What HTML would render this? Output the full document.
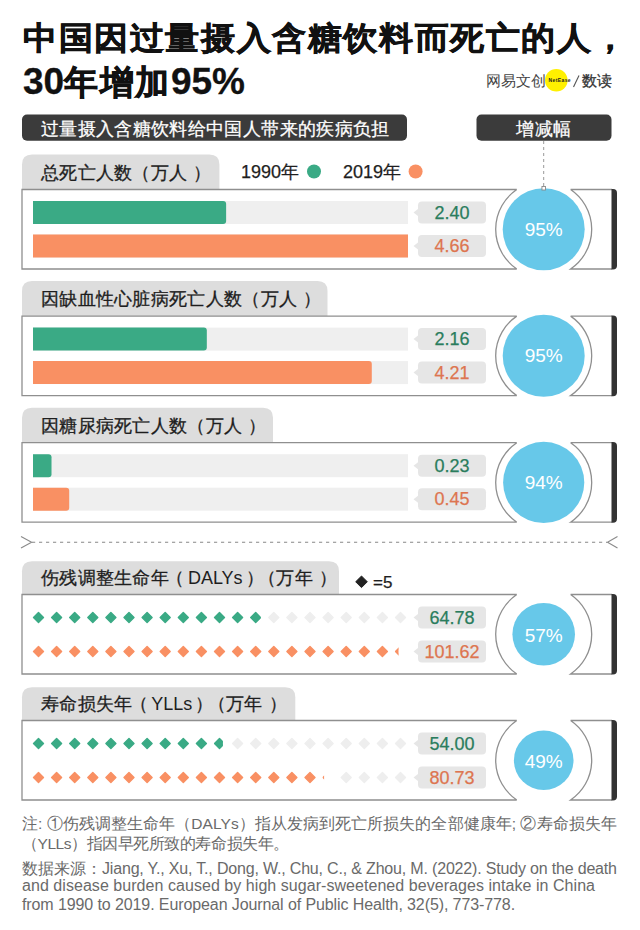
<!DOCTYPE html>
<html><head><meta charset="utf-8">
<style>
html,body{margin:0;padding:0;background:#fff;}
body{width:640px;height:930px;position:relative;overflow:hidden;font-family:"Liberation Sans",sans-serif;color:#1a1a1a;}
.a{position:absolute;white-space:nowrap;}
svg{position:absolute;left:0;top:0;}
.title{position:absolute;left:23px;font-size:34px;letter-spacing:1.6px;font-weight:700;color:#111;white-space:nowrap;-webkit-text-stroke:0.6px #111;transform:scaleY(0.94);transform-origin:0 60%;}
.dg{-webkit-text-stroke:0.3px #111;letter-spacing:0px;font-size:37px}
.hb{position:absolute;color:#fff;font-size:18px;letter-spacing:0.35px;white-space:nowrap;height:26px;line-height:29px;-webkit-text-stroke:0.25px #fff;}
.tabt{position:absolute;left:41px;font-size:18px;letter-spacing:0.3px;color:#1e1e1e;white-space:nowrap;-webkit-text-stroke:0.3px #1e1e1e;}
.val{position:absolute;left:418px;width:68px;height:22px;line-height:22px;text-align:center;font-size:18px;-webkit-text-stroke:0.25px currentColor;}
.pct{position:absolute;left:503.70000000000005px;width:80px;height:24px;line-height:24px;text-align:center;color:#fff;font-size:19px;}
.leg{position:absolute;font-size:18px;color:#1e1e1e;white-space:nowrap;-webkit-text-stroke:0.25px #1e1e1e;}
.note{position:absolute;left:22px;font-size:15px;color:#6a6a6a;white-space:nowrap;}
</style></head><body>
<svg width="640" height="930" viewBox="0 0 640 930">
<rect x="22" y="114.5" width="385" height="26.3" rx="5" fill="#3b3b3b"/>
<rect x="476.5" y="114.5" width="135" height="26.3" rx="5" fill="#3b3b3b"/>
<line x1="543.7" y1="141" x2="543.7" y2="186" stroke="#999" stroke-width="1" stroke-dasharray="3 3"/>
<path d="M22,189.5 L22,164.5 Q22,154.5 32,154.5 L209.4,154.5 Q219.4,154.5 219.4,164.5 L219.4,189.5 Z" fill="#dddddd"/>
<path d="M516.79,189.5 L22,189.5 L22,269.0 L516.79,269.0 M516.79,189.5 A48,48 0 0 0 516.79,269.0 M570.61,189.5 L612,189.5 M612,269.0 L570.61,269.0 A48,48 0 0 0 570.61,189.5" fill="none" stroke="#8f8f8f" stroke-width="1.3"/>
<path d="M611.5,188.9 L613,188.9 Q617,188.9 617,192.9 L617,265.6 Q617,269.6 613,269.6 L611.5,269.6 Z" fill="#333"/>
<circle cx="543.7" cy="229.25" r="41" fill="#67c8e9"/>
<rect x="33" y="201.0" width="375" height="23" fill="#efefef"/>
<path d="M33,201.0 L223.13,201.0 Q226.13,201.0 226.13,204.0 L226.13,221.0 Q226.13,224.0 223.13,224.0 L33,224.0 Z" fill="#3aaa85"/>
<rect x="418" y="201.5" width="68" height="22" rx="4" fill="#e6e6e6"/>
<path d="M418,209.0 L413.5,212.5 L418,216.0 Z" fill="#e6e6e6"/>
<rect x="33" y="234.5" width="375" height="23" fill="#efefef"/>
<rect x="33" y="234.5" width="375" height="23" fill="#f99063"/>
<rect x="418" y="235.0" width="68" height="22" rx="4" fill="#e6e6e6"/>
<path d="M418,242.5 L413.5,246.0 L418,249.5 Z" fill="#e6e6e6"/>
<path d="M22,316.1 L22,291.1 Q22,281.1 32,281.1 L317.5,281.1 Q327.5,281.1 327.5,291.1 L327.5,316.1 Z" fill="#dddddd"/>
<path d="M516.79,316.1 L22,316.1 L22,395.6 L516.79,395.6 M516.79,316.1 A48,48 0 0 0 516.79,395.6 M570.61,316.1 L612,316.1 M612,395.6 L570.61,395.6 A48,48 0 0 0 570.61,316.1" fill="none" stroke="#8f8f8f" stroke-width="1.3"/>
<path d="M611.5,315.5 L613,315.5 Q617,315.5 617,319.5 L617,392.20000000000005 Q617,396.20000000000005 613,396.20000000000005 L611.5,396.20000000000005 Z" fill="#333"/>
<circle cx="543.7" cy="355.85" r="41" fill="#67c8e9"/>
<rect x="33" y="327.6" width="375" height="23" fill="#efefef"/>
<path d="M33,327.6 L203.82,327.6 Q206.82,327.6 206.82,330.6 L206.82,347.6 Q206.82,350.6 203.82,350.6 L33,350.6 Z" fill="#3aaa85"/>
<rect x="418" y="328.1" width="68" height="22" rx="4" fill="#e6e6e6"/>
<path d="M418,335.6 L413.5,339.1 L418,342.6 Z" fill="#e6e6e6"/>
<rect x="33" y="361.1" width="375" height="23" fill="#efefef"/>
<path d="M33,361.1 L368.79,361.1 Q371.79,361.1 371.79,364.1 L371.79,381.1 Q371.79,384.1 368.79,384.1 L33,384.1 Z" fill="#f99063"/>
<rect x="418" y="361.6" width="68" height="22" rx="4" fill="#e6e6e6"/>
<path d="M418,369.1 L413.5,372.6 L418,376.1 Z" fill="#e6e6e6"/>
<path d="M22,442.7 L22,417.7 Q22,407.7 32,407.7 L263,407.7 Q273,407.7 273,417.7 L273,442.7 Z" fill="#dddddd"/>
<path d="M516.79,442.7 L22,442.7 L22,522.2 L516.79,522.2 M516.79,442.7 A48,48 0 0 0 516.79,522.2 M570.61,442.7 L612,442.7 M612,522.2 L570.61,522.2 A48,48 0 0 0 570.61,442.7" fill="none" stroke="#8f8f8f" stroke-width="1.3"/>
<path d="M611.5,442.09999999999997 L613,442.09999999999997 Q617,442.09999999999997 617,446.09999999999997 L617,518.8000000000001 Q617,522.8000000000001 613,522.8000000000001 L611.5,522.8000000000001 Z" fill="#333"/>
<circle cx="543.7" cy="482.45000000000005" r="40.6" fill="#67c8e9"/>
<rect x="33" y="454.2" width="375" height="23" fill="#efefef"/>
<path d="M33,454.2 L48.51,454.2 Q51.51,454.2 51.51,457.2 L51.51,474.2 Q51.51,477.2 48.51,477.2 L33,477.2 Z" fill="#3aaa85"/>
<rect x="418" y="454.7" width="68" height="22" rx="4" fill="#e6e6e6"/>
<path d="M418,462.2 L413.5,465.7 L418,469.2 Z" fill="#e6e6e6"/>
<rect x="33" y="487.7" width="375" height="23" fill="#efefef"/>
<path d="M33,487.7 L66.21,487.7 Q69.21,487.7 69.21,490.7 L69.21,507.7 Q69.21,510.7 66.21,510.7 L33,510.7 Z" fill="#f99063"/>
<rect x="418" y="488.2" width="68" height="22" rx="4" fill="#e6e6e6"/>
<path d="M418,495.7 L413.5,499.2 L418,502.7 Z" fill="#e6e6e6"/>
<rect x="541.95" y="186.5" width="3.5" height="3.5" fill="#fff" stroke="#888" stroke-width="0.9"/>
<line x1="32" y1="542.25" x2="607" y2="542.25" stroke="#888" stroke-width="1.2" stroke-dasharray="3.2 3.8"/>
<path d="M21,536.6 L31.6,542.25 L21,548" fill="none" stroke="#8a8a8a" stroke-width="1.1"/>
<path d="M617.5,536.6 L607.5,542.25 L617.5,548" fill="none" stroke="#8a8a8a" stroke-width="1.1"/>
<path d="M22,594.5 L22,571.3 Q22,561.3 32,561.3 L329,561.3 Q339,561.3 339,571.3 L339,594.5 Z" fill="#dddddd"/>
<path d="M516.79,594.5 L22,594.5 L22,674 L516.79,674 M516.79,594.5 A48,48 0 0 0 516.79,674 M570.61,594.5 L612,594.5 M612,674 L570.61,674 A48,48 0 0 0 570.61,594.5" fill="none" stroke="#8f8f8f" stroke-width="1.3"/>
<path d="M611.5,593.9 L613,593.9 Q617,593.9 617,597.9 L617,670.6 Q617,674.6 613,674.6 L611.5,674.6 Z" fill="#333"/>
<circle cx="543.7" cy="634.25" r="31.3" fill="#67c8e9"/>
<path d="M38.5,612.6 L43.5,617.6 L38.5,622.6 L33.5,617.6 Z" fill="#3aaa85" stroke="#3aaa85" stroke-width="1.4" stroke-linejoin="round"/>
<path d="M56.6,612.6 L61.6,617.6 L56.6,622.6 L51.6,617.6 Z" fill="#3aaa85" stroke="#3aaa85" stroke-width="1.4" stroke-linejoin="round"/>
<path d="M74.7,612.6 L79.7,617.6 L74.7,622.6 L69.7,617.6 Z" fill="#3aaa85" stroke="#3aaa85" stroke-width="1.4" stroke-linejoin="round"/>
<path d="M92.80000000000001,612.6 L97.80000000000001,617.6 L92.80000000000001,622.6 L87.80000000000001,617.6 Z" fill="#3aaa85" stroke="#3aaa85" stroke-width="1.4" stroke-linejoin="round"/>
<path d="M110.9,612.6 L115.9,617.6 L110.9,622.6 L105.9,617.6 Z" fill="#3aaa85" stroke="#3aaa85" stroke-width="1.4" stroke-linejoin="round"/>
<path d="M129.0,612.6 L134.0,617.6 L129.0,622.6 L124.0,617.6 Z" fill="#3aaa85" stroke="#3aaa85" stroke-width="1.4" stroke-linejoin="round"/>
<path d="M147.10000000000002,612.6 L152.10000000000002,617.6 L147.10000000000002,622.6 L142.10000000000002,617.6 Z" fill="#3aaa85" stroke="#3aaa85" stroke-width="1.4" stroke-linejoin="round"/>
<path d="M165.20000000000002,612.6 L170.20000000000002,617.6 L165.20000000000002,622.6 L160.20000000000002,617.6 Z" fill="#3aaa85" stroke="#3aaa85" stroke-width="1.4" stroke-linejoin="round"/>
<path d="M183.3,612.6 L188.3,617.6 L183.3,622.6 L178.3,617.6 Z" fill="#3aaa85" stroke="#3aaa85" stroke-width="1.4" stroke-linejoin="round"/>
<path d="M201.4,612.6 L206.4,617.6 L201.4,622.6 L196.4,617.6 Z" fill="#3aaa85" stroke="#3aaa85" stroke-width="1.4" stroke-linejoin="round"/>
<path d="M219.5,612.6 L224.5,617.6 L219.5,622.6 L214.5,617.6 Z" fill="#3aaa85" stroke="#3aaa85" stroke-width="1.4" stroke-linejoin="round"/>
<path d="M237.60000000000002,612.6 L242.60000000000002,617.6 L237.60000000000002,622.6 L232.60000000000002,617.6 Z" fill="#3aaa85" stroke="#3aaa85" stroke-width="1.4" stroke-linejoin="round"/>
<clipPath id="c617_12"><rect x="250.00000000000003" y="609.6" width="10.90" height="16"/></clipPath>
<path d="M255.70000000000002,612.6 L260.70000000000005,617.6 L255.70000000000002,622.6 L250.70000000000002,617.6 Z" fill="#3aaa85" stroke="#3aaa85" stroke-width="1.4" stroke-linejoin="round" clip-path="url(#c617_12)"/>
<path d="M273.8,612.6 L278.8,617.6 L273.8,622.6 L268.8,617.6 Z" fill="#eeeeee" stroke="#eeeeee" stroke-width="1.4" stroke-linejoin="round"/>
<path d="M291.90000000000003,612.6 L296.90000000000003,617.6 L291.90000000000003,622.6 L286.90000000000003,617.6 Z" fill="#eeeeee" stroke="#eeeeee" stroke-width="1.4" stroke-linejoin="round"/>
<path d="M310.0,612.6 L315.0,617.6 L310.0,622.6 L305.0,617.6 Z" fill="#eeeeee" stroke="#eeeeee" stroke-width="1.4" stroke-linejoin="round"/>
<path d="M328.1,612.6 L333.1,617.6 L328.1,622.6 L323.1,617.6 Z" fill="#eeeeee" stroke="#eeeeee" stroke-width="1.4" stroke-linejoin="round"/>
<path d="M346.20000000000005,612.6 L351.20000000000005,617.6 L346.20000000000005,622.6 L341.20000000000005,617.6 Z" fill="#eeeeee" stroke="#eeeeee" stroke-width="1.4" stroke-linejoin="round"/>
<path d="M364.3,612.6 L369.3,617.6 L364.3,622.6 L359.3,617.6 Z" fill="#eeeeee" stroke="#eeeeee" stroke-width="1.4" stroke-linejoin="round"/>
<path d="M382.40000000000003,612.6 L387.40000000000003,617.6 L382.40000000000003,622.6 L377.40000000000003,617.6 Z" fill="#eeeeee" stroke="#eeeeee" stroke-width="1.4" stroke-linejoin="round"/>
<path d="M400.5,612.6 L405.5,617.6 L400.5,622.6 L395.5,617.6 Z" fill="#eeeeee" stroke="#eeeeee" stroke-width="1.4" stroke-linejoin="round"/>
<rect x="418" y="606.6" width="68" height="22" rx="4" fill="#e6e6e6"/>
<path d="M418,614.1 L413.5,617.6 L418,621.1 Z" fill="#e6e6e6"/>
<path d="M38.5,646.5 L43.5,651.5 L38.5,656.5 L33.5,651.5 Z" fill="#f99063" stroke="#f99063" stroke-width="1.4" stroke-linejoin="round"/>
<path d="M56.6,646.5 L61.6,651.5 L56.6,656.5 L51.6,651.5 Z" fill="#f99063" stroke="#f99063" stroke-width="1.4" stroke-linejoin="round"/>
<path d="M74.7,646.5 L79.7,651.5 L74.7,656.5 L69.7,651.5 Z" fill="#f99063" stroke="#f99063" stroke-width="1.4" stroke-linejoin="round"/>
<path d="M92.80000000000001,646.5 L97.80000000000001,651.5 L92.80000000000001,656.5 L87.80000000000001,651.5 Z" fill="#f99063" stroke="#f99063" stroke-width="1.4" stroke-linejoin="round"/>
<path d="M110.9,646.5 L115.9,651.5 L110.9,656.5 L105.9,651.5 Z" fill="#f99063" stroke="#f99063" stroke-width="1.4" stroke-linejoin="round"/>
<path d="M129.0,646.5 L134.0,651.5 L129.0,656.5 L124.0,651.5 Z" fill="#f99063" stroke="#f99063" stroke-width="1.4" stroke-linejoin="round"/>
<path d="M147.10000000000002,646.5 L152.10000000000002,651.5 L147.10000000000002,656.5 L142.10000000000002,651.5 Z" fill="#f99063" stroke="#f99063" stroke-width="1.4" stroke-linejoin="round"/>
<path d="M165.20000000000002,646.5 L170.20000000000002,651.5 L165.20000000000002,656.5 L160.20000000000002,651.5 Z" fill="#f99063" stroke="#f99063" stroke-width="1.4" stroke-linejoin="round"/>
<path d="M183.3,646.5 L188.3,651.5 L183.3,656.5 L178.3,651.5 Z" fill="#f99063" stroke="#f99063" stroke-width="1.4" stroke-linejoin="round"/>
<path d="M201.4,646.5 L206.4,651.5 L201.4,656.5 L196.4,651.5 Z" fill="#f99063" stroke="#f99063" stroke-width="1.4" stroke-linejoin="round"/>
<path d="M219.5,646.5 L224.5,651.5 L219.5,656.5 L214.5,651.5 Z" fill="#f99063" stroke="#f99063" stroke-width="1.4" stroke-linejoin="round"/>
<path d="M237.60000000000002,646.5 L242.60000000000002,651.5 L237.60000000000002,656.5 L232.60000000000002,651.5 Z" fill="#f99063" stroke="#f99063" stroke-width="1.4" stroke-linejoin="round"/>
<path d="M255.70000000000002,646.5 L260.70000000000005,651.5 L255.70000000000002,656.5 L250.70000000000002,651.5 Z" fill="#f99063" stroke="#f99063" stroke-width="1.4" stroke-linejoin="round"/>
<path d="M273.8,646.5 L278.8,651.5 L273.8,656.5 L268.8,651.5 Z" fill="#f99063" stroke="#f99063" stroke-width="1.4" stroke-linejoin="round"/>
<path d="M291.90000000000003,646.5 L296.90000000000003,651.5 L291.90000000000003,656.5 L286.90000000000003,651.5 Z" fill="#f99063" stroke="#f99063" stroke-width="1.4" stroke-linejoin="round"/>
<path d="M310.0,646.5 L315.0,651.5 L310.0,656.5 L305.0,651.5 Z" fill="#f99063" stroke="#f99063" stroke-width="1.4" stroke-linejoin="round"/>
<path d="M328.1,646.5 L333.1,651.5 L328.1,656.5 L323.1,651.5 Z" fill="#f99063" stroke="#f99063" stroke-width="1.4" stroke-linejoin="round"/>
<path d="M346.20000000000005,646.5 L351.20000000000005,651.5 L346.20000000000005,656.5 L341.20000000000005,651.5 Z" fill="#f99063" stroke="#f99063" stroke-width="1.4" stroke-linejoin="round"/>
<path d="M364.3,646.5 L369.3,651.5 L364.3,656.5 L359.3,651.5 Z" fill="#f99063" stroke="#f99063" stroke-width="1.4" stroke-linejoin="round"/>
<path d="M382.40000000000003,646.5 L387.40000000000003,651.5 L382.40000000000003,656.5 L377.40000000000003,651.5 Z" fill="#f99063" stroke="#f99063" stroke-width="1.4" stroke-linejoin="round"/>
<clipPath id="c651_20"><rect x="394.8" y="643.5" width="3.69" height="16"/></clipPath>
<path d="M400.5,646.5 L405.5,651.5 L400.5,656.5 L395.5,651.5 Z" fill="#f99063" stroke="#f99063" stroke-width="1.4" stroke-linejoin="round" clip-path="url(#c651_20)"/>
<rect x="418" y="640.5" width="68" height="22" rx="4" fill="#e6e6e6"/>
<path d="M418,648.0 L413.5,651.5 L418,655.0 Z" fill="#e6e6e6"/>
<path d="M22,720.5 L22,697.3 Q22,687.3 32,687.3 L285.3,687.3 Q295.3,687.3 295.3,697.3 L295.3,720.5 Z" fill="#dddddd"/>
<path d="M516.79,720.5 L22,720.5 L22,800 L516.79,800 M516.79,720.5 A48,48 0 0 0 516.79,800 M570.61,720.5 L612,720.5 M612,800 L570.61,800 A48,48 0 0 0 570.61,720.5" fill="none" stroke="#8f8f8f" stroke-width="1.3"/>
<path d="M611.5,719.9 L613,719.9 Q617,719.9 617,723.9 L617,796.6 Q617,800.6 613,800.6 L611.5,800.6 Z" fill="#333"/>
<circle cx="543.7" cy="760.25" r="29.8" fill="#67c8e9"/>
<path d="M38.5,738.6 L43.5,743.6 L38.5,748.6 L33.5,743.6 Z" fill="#3aaa85" stroke="#3aaa85" stroke-width="1.4" stroke-linejoin="round"/>
<path d="M56.6,738.6 L61.6,743.6 L56.6,748.6 L51.6,743.6 Z" fill="#3aaa85" stroke="#3aaa85" stroke-width="1.4" stroke-linejoin="round"/>
<path d="M74.7,738.6 L79.7,743.6 L74.7,748.6 L69.7,743.6 Z" fill="#3aaa85" stroke="#3aaa85" stroke-width="1.4" stroke-linejoin="round"/>
<path d="M92.80000000000001,738.6 L97.80000000000001,743.6 L92.80000000000001,748.6 L87.80000000000001,743.6 Z" fill="#3aaa85" stroke="#3aaa85" stroke-width="1.4" stroke-linejoin="round"/>
<path d="M110.9,738.6 L115.9,743.6 L110.9,748.6 L105.9,743.6 Z" fill="#3aaa85" stroke="#3aaa85" stroke-width="1.4" stroke-linejoin="round"/>
<path d="M129.0,738.6 L134.0,743.6 L129.0,748.6 L124.0,743.6 Z" fill="#3aaa85" stroke="#3aaa85" stroke-width="1.4" stroke-linejoin="round"/>
<path d="M147.10000000000002,738.6 L152.10000000000002,743.6 L147.10000000000002,748.6 L142.10000000000002,743.6 Z" fill="#3aaa85" stroke="#3aaa85" stroke-width="1.4" stroke-linejoin="round"/>
<path d="M165.20000000000002,738.6 L170.20000000000002,743.6 L165.20000000000002,748.6 L160.20000000000002,743.6 Z" fill="#3aaa85" stroke="#3aaa85" stroke-width="1.4" stroke-linejoin="round"/>
<path d="M183.3,738.6 L188.3,743.6 L183.3,748.6 L178.3,743.6 Z" fill="#3aaa85" stroke="#3aaa85" stroke-width="1.4" stroke-linejoin="round"/>
<path d="M201.4,738.6 L206.4,743.6 L201.4,748.6 L196.4,743.6 Z" fill="#3aaa85" stroke="#3aaa85" stroke-width="1.4" stroke-linejoin="round"/>
<clipPath id="c743_10"><rect x="213.8" y="735.6" width="9.12" height="16"/></clipPath>
<path d="M219.5,738.6 L224.5,743.6 L219.5,748.6 L214.5,743.6 Z" fill="#3aaa85" stroke="#3aaa85" stroke-width="1.4" stroke-linejoin="round" clip-path="url(#c743_10)"/>
<path d="M237.60000000000002,738.6 L242.60000000000002,743.6 L237.60000000000002,748.6 L232.60000000000002,743.6 Z" fill="#eeeeee" stroke="#eeeeee" stroke-width="1.4" stroke-linejoin="round"/>
<path d="M255.70000000000002,738.6 L260.70000000000005,743.6 L255.70000000000002,748.6 L250.70000000000002,743.6 Z" fill="#eeeeee" stroke="#eeeeee" stroke-width="1.4" stroke-linejoin="round"/>
<path d="M273.8,738.6 L278.8,743.6 L273.8,748.6 L268.8,743.6 Z" fill="#eeeeee" stroke="#eeeeee" stroke-width="1.4" stroke-linejoin="round"/>
<path d="M291.90000000000003,738.6 L296.90000000000003,743.6 L291.90000000000003,748.6 L286.90000000000003,743.6 Z" fill="#eeeeee" stroke="#eeeeee" stroke-width="1.4" stroke-linejoin="round"/>
<path d="M310.0,738.6 L315.0,743.6 L310.0,748.6 L305.0,743.6 Z" fill="#eeeeee" stroke="#eeeeee" stroke-width="1.4" stroke-linejoin="round"/>
<path d="M328.1,738.6 L333.1,743.6 L328.1,748.6 L323.1,743.6 Z" fill="#eeeeee" stroke="#eeeeee" stroke-width="1.4" stroke-linejoin="round"/>
<path d="M346.20000000000005,738.6 L351.20000000000005,743.6 L346.20000000000005,748.6 L341.20000000000005,743.6 Z" fill="#eeeeee" stroke="#eeeeee" stroke-width="1.4" stroke-linejoin="round"/>
<path d="M364.3,738.6 L369.3,743.6 L364.3,748.6 L359.3,743.6 Z" fill="#eeeeee" stroke="#eeeeee" stroke-width="1.4" stroke-linejoin="round"/>
<path d="M382.40000000000003,738.6 L387.40000000000003,743.6 L382.40000000000003,748.6 L377.40000000000003,743.6 Z" fill="#eeeeee" stroke="#eeeeee" stroke-width="1.4" stroke-linejoin="round"/>
<path d="M400.5,738.6 L405.5,743.6 L400.5,748.6 L395.5,743.6 Z" fill="#eeeeee" stroke="#eeeeee" stroke-width="1.4" stroke-linejoin="round"/>
<rect x="418" y="732.6" width="68" height="22" rx="4" fill="#e6e6e6"/>
<path d="M418,740.1 L413.5,743.6 L418,747.1 Z" fill="#e6e6e6"/>
<path d="M38.5,772.5 L43.5,777.5 L38.5,782.5 L33.5,777.5 Z" fill="#f99063" stroke="#f99063" stroke-width="1.4" stroke-linejoin="round"/>
<path d="M56.6,772.5 L61.6,777.5 L56.6,782.5 L51.6,777.5 Z" fill="#f99063" stroke="#f99063" stroke-width="1.4" stroke-linejoin="round"/>
<path d="M74.7,772.5 L79.7,777.5 L74.7,782.5 L69.7,777.5 Z" fill="#f99063" stroke="#f99063" stroke-width="1.4" stroke-linejoin="round"/>
<path d="M92.80000000000001,772.5 L97.80000000000001,777.5 L92.80000000000001,782.5 L87.80000000000001,777.5 Z" fill="#f99063" stroke="#f99063" stroke-width="1.4" stroke-linejoin="round"/>
<path d="M110.9,772.5 L115.9,777.5 L110.9,782.5 L105.9,777.5 Z" fill="#f99063" stroke="#f99063" stroke-width="1.4" stroke-linejoin="round"/>
<path d="M129.0,772.5 L134.0,777.5 L129.0,782.5 L124.0,777.5 Z" fill="#f99063" stroke="#f99063" stroke-width="1.4" stroke-linejoin="round"/>
<path d="M147.10000000000002,772.5 L152.10000000000002,777.5 L147.10000000000002,782.5 L142.10000000000002,777.5 Z" fill="#f99063" stroke="#f99063" stroke-width="1.4" stroke-linejoin="round"/>
<path d="M165.20000000000002,772.5 L170.20000000000002,777.5 L165.20000000000002,782.5 L160.20000000000002,777.5 Z" fill="#f99063" stroke="#f99063" stroke-width="1.4" stroke-linejoin="round"/>
<path d="M183.3,772.5 L188.3,777.5 L183.3,782.5 L178.3,777.5 Z" fill="#f99063" stroke="#f99063" stroke-width="1.4" stroke-linejoin="round"/>
<path d="M201.4,772.5 L206.4,777.5 L201.4,782.5 L196.4,777.5 Z" fill="#f99063" stroke="#f99063" stroke-width="1.4" stroke-linejoin="round"/>
<path d="M219.5,772.5 L224.5,777.5 L219.5,782.5 L214.5,777.5 Z" fill="#f99063" stroke="#f99063" stroke-width="1.4" stroke-linejoin="round"/>
<path d="M237.60000000000002,772.5 L242.60000000000002,777.5 L237.60000000000002,782.5 L232.60000000000002,777.5 Z" fill="#f99063" stroke="#f99063" stroke-width="1.4" stroke-linejoin="round"/>
<path d="M255.70000000000002,772.5 L260.70000000000005,777.5 L255.70000000000002,782.5 L250.70000000000002,777.5 Z" fill="#f99063" stroke="#f99063" stroke-width="1.4" stroke-linejoin="round"/>
<path d="M273.8,772.5 L278.8,777.5 L273.8,782.5 L268.8,777.5 Z" fill="#f99063" stroke="#f99063" stroke-width="1.4" stroke-linejoin="round"/>
<path d="M291.90000000000003,772.5 L296.90000000000003,777.5 L291.90000000000003,782.5 L286.90000000000003,777.5 Z" fill="#f99063" stroke="#f99063" stroke-width="1.4" stroke-linejoin="round"/>
<path d="M310.0,772.5 L315.0,777.5 L310.0,782.5 L305.0,777.5 Z" fill="#f99063" stroke="#f99063" stroke-width="1.4" stroke-linejoin="round"/>
<clipPath id="c777_16"><rect x="322.40000000000003" y="769.5" width="1.66" height="16"/></clipPath>
<path d="M328.1,772.5 L333.1,777.5 L328.1,782.5 L323.1,777.5 Z" fill="#f99063" stroke="#f99063" stroke-width="1.4" stroke-linejoin="round" clip-path="url(#c777_16)"/>
<path d="M346.20000000000005,772.5 L351.20000000000005,777.5 L346.20000000000005,782.5 L341.20000000000005,777.5 Z" fill="#eeeeee" stroke="#eeeeee" stroke-width="1.4" stroke-linejoin="round"/>
<path d="M364.3,772.5 L369.3,777.5 L364.3,782.5 L359.3,777.5 Z" fill="#eeeeee" stroke="#eeeeee" stroke-width="1.4" stroke-linejoin="round"/>
<path d="M382.40000000000003,772.5 L387.40000000000003,777.5 L382.40000000000003,782.5 L377.40000000000003,777.5 Z" fill="#eeeeee" stroke="#eeeeee" stroke-width="1.4" stroke-linejoin="round"/>
<path d="M400.5,772.5 L405.5,777.5 L400.5,782.5 L395.5,777.5 Z" fill="#eeeeee" stroke="#eeeeee" stroke-width="1.4" stroke-linejoin="round"/>
<rect x="418" y="766.5" width="68" height="22" rx="4" fill="#e6e6e6"/>
<path d="M418,774.0 L413.5,777.5 L418,781.0 Z" fill="#e6e6e6"/>
<circle cx="314" cy="171.5" r="7" fill="#3aaa85"/>
<circle cx="415.6" cy="171.5" r="7" fill="#f99063"/>
<path d="M361.5,576 L367.3,581.8 L361.5,587.6 L355.7,581.8 Z" fill="#222" stroke="#222" stroke-width="1" stroke-linejoin="round"/>
<circle cx="556.3" cy="80.3" r="11.3" fill="#fff000"/>
<line x1="573.5" y1="87" x2="579" y2="75.5" stroke="#555" stroke-width="1.1"/>
</svg>
<div class="title" style="top:15px">中国因过量摄入含糖饮料而死亡的人，</div>
<div class="title" style="top:60px;transform:none"><span class="dg">30</span>年增加<span class="dg">95%</span></div>
<div class="a" style="left:486px;top:72px;font-size:15px;color:#444;">网易文创</div>
<div class="a" style="left:548.5px;top:77px;font-size:5px;letter-spacing:0.4px;color:#222;font-weight:700">NetEase</div>
<div class="a" style="left:582px;top:72px;font-size:15px;color:#333;-webkit-text-stroke:0.3px #333">数读</div>
<div class="hb" style="left:41px;top:114.5px">过量摄入含糖饮料给中国人带来的疾病负担</div>
<div class="hb" style="left:476.5px;top:114.5px;width:135px;text-align:center">增减幅</div>
<div class="pct" style="top:217.55px">95%</div>
<div class="val" style="top:201.5px;color:#2a7d5d">2.40</div>
<div class="val" style="top:235.0px;color:#dd7550">4.66</div>
<div class="tabt" style="top:155.5px;height:35px;line-height:35px">总死亡人数（万人<span style="margin-left:6px">）</span></div>
<div class="pct" style="top:344.15000000000003px">95%</div>
<div class="val" style="top:328.1px;color:#2a7d5d">2.16</div>
<div class="val" style="top:361.6px;color:#dd7550">4.21</div>
<div class="tabt" style="top:282.1px;height:35px;line-height:35px">因缺血性心脏病死亡人数（万人<span style="margin-left:6px">）</span></div>
<div class="pct" style="top:470.75000000000006px">94%</div>
<div class="val" style="top:454.7px;color:#2a7d5d">0.23</div>
<div class="val" style="top:488.2px;color:#dd7550">0.45</div>
<div class="tabt" style="top:408.7px;height:35px;line-height:35px">因糖尿病死亡人数（万人<span style="margin-left:6px">）</span></div>
<div class="pct" style="top:623.75px">57%</div>
<div class="val" style="top:606.6px;color:#2a7d5d">64.78</div>
<div class="val" style="top:640.5px;color:#dd7550">101.62</div>
<div class="tabt" style="top:561.3px;height:33px;line-height:34px">伤残调整生命年<span style="margin-left:-3px">（</span><span style="margin-left:3.5px;-webkit-text-stroke:0;letter-spacing:0">DALYs</span><span style="margin-left:3px">）</span><span style="margin-left:-6px">（</span>万年<span style="margin-left:6px">）</span></div>
<div class="pct" style="top:749.75px">49%</div>
<div class="val" style="top:732.6px;color:#2a7d5d">54.00</div>
<div class="val" style="top:766.5px;color:#dd7550">80.73</div>
<div class="tabt" style="top:687.3px;height:33px;line-height:34px">寿命损失年<span style="margin-left:-3px">（</span><span style="margin-left:3.5px;-webkit-text-stroke:0;letter-spacing:0">YLLs</span><span style="margin-left:3px">）</span><span style="margin-left:-6px">（</span>万年<span style="margin-left:6px">）</span></div>
<div class="leg" style="left:241px;top:160px">1990年</div>
<div class="leg" style="left:343px;top:160px">2019年</div>
<div class="leg" style="left:373px;top:572.5px;font-size:17px">=5</div>
<div class="note" style="top:814px;font-size:15.5px;letter-spacing:0.06px">注: ①伤残调整生命年（DALYs）指从发病到死亡所损失的全部健康年; ②寿命损失年</div>
<div class="note" style="top:834px;font-size:15.5px;letter-spacing:-0.45px">（YLLs）指因早死所致的寿命损失年。</div>
<div class="note" style="top:859px;font-size:15.5px">数据来源：<span style="font-size:16px;letter-spacing:-0.18px">Jiang, Y., Xu, T., Dong, W., Chu, C., &amp; Zhou, M. (2022). Study on the death</span></div>
<div class="note" style="top:877px;font-size:16px;letter-spacing:0.05px">and disease burden caused by high sugar-sweetened beverages intake in China</div>
<div class="note" style="top:896px;font-size:16px;letter-spacing:-0.1px">from 1990 to 2019. European Journal of Public Health, 32(5), 773-778.</div>
</body></html>
